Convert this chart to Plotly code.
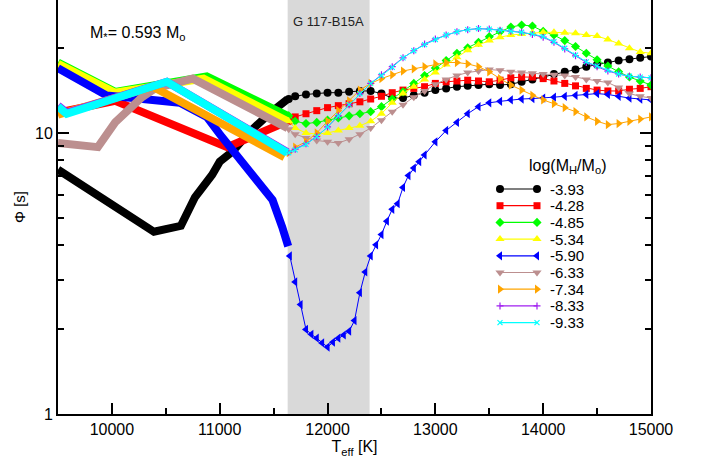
import plotly.graph_objects as go

# ---------------- data ----------------
LABELS = ["-3.93", "-4.28", "-4.85", "-5.34", "-5.90", "-6.33", "-7.34", "-8.33", "-9.33"]
COLORS = ["#000000", "#ff0000", "#00ff00", "#ffff00", "#0000ff",
          "#bc8f8f", "#ffa500", "#a020f0", "#00ffff"]
SYMBOLS = ["circle", "square", "diamond", "triangle-up", "triangle-left",
           "triangle-down", "triangle-right", "cross-thin", "x-thin"]

# cool part (dense model grid, drawn as a thick band)
T_LOW_393 = [9500, 10390, 10640, 10770, 10930, 11000, 11120, 11280, 11470, 11630]
PHI_LOW_393 = [7.4, 4.45, 4.67, 5.9, 7.1, 7.9, 8.6, 10.1, 11.8, 13.2]
T_LOW_428 = [9500, 10030, 11070, 11630]
PHI_LOW_428 = [11.8, 13.0, 8.9, 11.0]
T_LOW_485 = [9500, 10030, 10880, 11630]
PHI_LOW_485 = [17.8, 14.0, 15.9, 11.5]
T_LOW_534 = [9500, 10030, 10850, 11630]
PHI_LOW_534 = [17.6, 13.9, 15.6, 11.0]
T_LOW_590 = [9500, 9950, 10630, 10880, 11000, 11120, 11330, 11490, 11580, 11635]
PHI_LOW_590 = [17.0, 13.6, 12.8, 11.4, 9.9, 8.7, 7.0, 5.77, 4.62, 3.95]
T_LOW_633 = [9500, 9870, 10030, 10280, 10400, 10750, 11630]
PHI_LOW_633 = [9.2, 8.9, 10.9, 13.4, 14.4, 15.6, 10.4]
T_LOW_734 = [9500, 10380, 11600]
PHI_LOW_734 = [11.6, 14.6, 8.2]
T_LOW_833 = [9500, 9580, 10510, 11625]
PHI_LOW_833 = [12.5, 11.8, 15.2, 8.55]
T_LOW_933 = [9500, 9580, 10510, 11625]
PHI_LOW_933 = [12.4, 11.7, 15.2, 8.5]

# hot part (individual models, markers)
T_HIGH = [11640, 11700, 11800, 11900, 12000, 12100, 12200, 12300, 12400, 12500,
          12600, 12700, 12800, 12900, 13000, 13100, 13200, 13300, 13400, 13500,
          13600, 13700, 13800, 13900, 14000, 14100, 14200, 14300, 14400, 14500,
          14600, 14700, 14800, 14900, 15000]
PHI_393 = [13.2, 13.5, 13.7, 13.8, 13.9, 13.9, 14.0, 14.1, 14.1, 13.8, 13.3, 13.3,
           13.6, 13.9, 14.2, 14.4, 14.6, 14.7, 14.8, 14.9, 14.8, 14.9, 15.2, 15.5,
           15.8, 16.2, 16.5, 16.8, 17.2, 17.5, 17.8, 18.1, 18.3, 18.5, 18.7]
PHI_428 = [11.0, 11.4, 11.7, 12.0, 12.3, 12.5, 12.7, 12.9, 13.2, 13.5, 13.9, 14.2,
           14.4, 14.6, 15.0, 15.2, 15.3, 15.4, 15.3, 15.2, 15.4, 15.7, 15.8, 15.8,
           15.6, 15.3, 15.0, 14.7, 14.4, 14.2, 14.1, 14.1, 14.3, 14.4, 14.6]
PHI_485 = [11.5, 11.0, 10.8, 10.9, 11.1, 11.3, 11.5, 11.7, 11.9, 12.4, 13.2, 14.0,
           15.0, 16.0, 17.0, 18.1, 19.2, 20.1, 21.0, 22.0, 22.9, 23.8, 24.2, 24.0,
           23.0, 22.3, 21.3, 20.3, 19.2, 18.2, 17.3, 16.5, 15.8, 15.3, 14.8]
PHI_534 = [11.0, 10.4, 10.0, 9.9, 10.0, 10.2, 10.4, 10.6, 11.0, 11.7, 12.8, 13.8,
           14.6, 15.5, 16.4, 17.5, 18.6, 19.7, 20.6, 21.3, 21.9, 22.3, 22.5, 22.7,
           22.8, 22.8, 22.7, 22.6, 22.3, 22.1, 21.5, 20.8, 20.0, 19.4, 19.2]
PHI_633 = [10.3, 9.9, 9.6, 9.4, 9.3, 9.2, 9.5, 9.9, 10.4, 11.1, 11.9, 12.6,
           13.4, 14.1, 14.9, 15.5, 16.0, 16.4, 16.6, 16.8, 16.7, 16.5, 16.4, 16.3,
           16.2, 16.1, 16.0, 15.8, 15.5, 15.3, 15.1, 14.5, 13.8, 13.5, 13.3]
PHI_734 = [8.5, 8.9, 9.3, 10.0, 11.0, 12.0, 13.0, 14.2, 15.0, 15.6, 16.1, 16.6,
           16.9, 17.2, 17.6, 17.8, 17.8, 17.6, 17.2, 16.5, 15.6, 14.8, 14.2, 13.6,
           13.1, 12.7, 12.3, 11.9, 11.4, 11.0, 10.7, 10.8, 11.0, 11.2, 11.4]
PHI_833 = [8.55, 8.75, 9.15, 9.7, 10.5, 11.5, 12.6, 13.8, 15.0, 16.1, 17.2, 18.5,
           19.6, 20.7, 21.6, 22.3, 22.9, 23.3, 23.5, 23.4, 23.2, 23.0, 22.8, 22.4,
           21.9, 21.0, 19.9, 18.8, 17.8, 17.2, 16.6, 16.2, 15.9, 15.8, 15.7]
PHI_933 = [8.5, 8.7, 9.1, 9.7, 10.5, 11.5, 12.6, 13.8, 15.0, 16.0, 17.1, 18.5,
           19.6, 20.6, 21.5, 22.3, 22.9, 23.3, 23.5, 23.4, 23.2, 23.0, 22.8, 22.5,
           22.0, 21.1, 20.0, 18.9, 17.9, 17.3, 16.7, 16.2, 15.9, 15.8, 15.7]
T_HIGH_590 = [11650, 11700, 11750, 11800, 11850, 11900, 11950, 12000, 12050, 12100,
              12150, 12200, 12250, 12300, 12350, 12400, 12450, 12500, 12550, 12600,
              12650, 12700, 12750, 12800, 12850, 12900, 13000, 13100, 13200, 13300,
              13400, 13500, 13600, 13700, 13800, 13900, 14000, 14100, 14200, 14300,
              14400, 14500, 14600, 14700, 14800, 14900, 15000]
PHI_590 = [3.65, 2.95, 2.45, 2.0, 1.92, 1.86, 1.79, 1.73, 1.80, 1.86,
           1.91, 1.97, 2.15, 2.7, 3.2, 3.65, 4.0, 4.35, 4.85, 5.35,
           5.6, 6.4, 7.05, 7.5, 7.9, 8.35, 9.3, 10.2, 10.9, 11.7,
           12.4, 12.8, 12.95, 13.1, 13.2, 13.25, 13.3, 13.4, 13.5, 13.6,
           13.7, 13.8, 13.7, 13.5, 13.3, 13.2, 13.1]

# observed star temperature band
STAR_NAME = "G 117-B15A"
STAR_TEFF = [11630, 12390]

LOW = [(T_LOW_393, PHI_LOW_393), (T_LOW_428, PHI_LOW_428), (T_LOW_485, PHI_LOW_485),
       (T_LOW_534, PHI_LOW_534), (T_LOW_590, PHI_LOW_590), (T_LOW_633, PHI_LOW_633),
       (T_LOW_734, PHI_LOW_734), (T_LOW_833, PHI_LOW_833), (T_LOW_933, PHI_LOW_933)]
HIGH = [(T_HIGH, PHI_393), (T_HIGH, PHI_428), (T_HIGH, PHI_485), (T_HIGH, PHI_534),
        (T_HIGH_590, PHI_590), (T_HIGH, PHI_633), (T_HIGH, PHI_734),
        (T_HIGH, PHI_833), (T_HIGH, PHI_933)]
MSIZE = [8, 7, 7, 8, 8, 8, 8, 5, 5]

FONT = "Arial, Liberation Sans, sans-serif"

fig = go.Figure()

fig.add_shape(type="rect", xref="x", yref="paper", x0=STAR_TEFF[0], x1=STAR_TEFF[1],
              y0=0, y1=1, fillcolor="#d9d9d9", line=dict(width=0), layer="below")

for i in range(len(LABELS)):
    tl, pl = LOW[i]
    fig.add_trace(go.Scatter(x=tl, y=pl, mode="lines", showlegend=False,
                             line=dict(color=COLORS[i], width=8), hoverinfo="skip"))
    th, ph = HIGH[i]
    thin = SYMBOLS[i].endswith("thin")
    fig.add_trace(go.Scatter(
        x=th, y=ph, mode="lines+markers", name=LABELS[i], showlegend=False,
        line=dict(color=COLORS[i], width=1),
        marker=dict(symbol=SYMBOLS[i], size=MSIZE[i], color=COLORS[i],
                    line=dict(color=COLORS[i], width=1.2 if thin else 0))))

# legend drawn inside the plot, in plot-pixel coordinates (axes x3/y3)
LEG_X0, LEG_X1, LEG_Y0, LEG_DY = 500, 537, 189, 16.7
annotations = []
for i in range(len(LABELS)):
    yy = LEG_Y0 + LEG_DY * i
    thin = SYMBOLS[i].endswith("thin")
    fig.add_trace(go.Scatter(
        x=[LEG_X0, LEG_X1], y=[yy, yy], xaxis="x3", yaxis="y3", mode="lines+markers",
        showlegend=False, hoverinfo="skip",
        line=dict(color=COLORS[i], width=1.2),
        marker=dict(symbol=SYMBOLS[i], size=MSIZE[i], color=COLORS[i],
                    line=dict(color=COLORS[i], width=1.2 if thin else 0))))
    annotations.append(dict(x=548, y=yy, xref="x3", yref="y3", text=LABELS[i],
                            showarrow=False, xanchor="left", yanchor="middle",
                            font=dict(size=15, color="black", family=FONT)))

annotations += [
    dict(x=567, y=166, xref="x3", yref="y3", text="log(M<sub>H</sub>/M<sub>o</sub>)",
         showarrow=False, xanchor="center", yanchor="middle",
         font=dict(size=16, color="black", family=FONT)),
    dict(x=88, y=33, xref="x3", yref="y3", text="M<sub>*</sub>= 0.593 M<sub>o</sub>",
         showarrow=False, xanchor="left", yanchor="middle",
         font=dict(size=16, color="black", family=FONT)),
    dict(x=(STAR_TEFF[0] + STAR_TEFF[1]) / 2, y=21, xref="x", yref="y3", text=STAR_NAME,
         showarrow=False, xanchor="center", yanchor="middle",
         font=dict(size=13, color="#222222", family=FONT)),
]

X_MAJOR = [10000, 11000, 12000, 13000, 14000, 15000]
X_MINOR = [10500, 11500, 12500, 13500, 14500]
Y_MAJOR = [1, 10]
Y_MINOR = [2, 3, 4, 5, 6, 7, 8, 9, 20]

fig.update_layout(
    width=703, height=459, autosize=False,
    margin=dict(l=58, r=52, t=0, b=45),
    paper_bgcolor="white", plot_bgcolor="white",
    font=dict(family=FONT, color="black"),
    showlegend=False,
    annotations=annotations,
    xaxis=dict(range=[9500, 15000], showline=True, linecolor="black", linewidth=2,
               ticks="inside", ticklen=11, tickwidth=1.5, tickcolor="black",
               tickvals=X_MAJOR, ticktext=[str(v) for v in X_MAJOR],
               tickfont=dict(size=16),
               minor=dict(tickvals=X_MINOR, ticks="inside", ticklen=6, tickwidth=1.5,
                          tickcolor="black", showgrid=False),
               showgrid=False, zeroline=False,
               title=dict(text="T<sub>eff</sub> [K]", font=dict(size=16), standoff=1)),
    xaxis2=dict(range=[9500, 15000], overlaying="x", side="top", anchor="y",
                showline=False, ticks="inside", ticklen=10, tickwidth=1.5,
                tickcolor="black", tickvals=X_MAJOR, showticklabels=False,
                minor=dict(tickvals=X_MINOR, ticks="inside", ticklen=13, tickwidth=1.5,
                           tickcolor="black", showgrid=False),
                showgrid=False, zeroline=False),
    yaxis=dict(type="log", range=[0, 1.4728], showline=True, linecolor="black",
               linewidth=2, mirror="ticks",
               ticks="inside", ticklen=11, tickwidth=1.5, tickcolor="black",
               tickvals=Y_MAJOR, ticktext=[str(v) for v in Y_MAJOR],
               tickfont=dict(size=16),
               minor=dict(tickvals=Y_MINOR, ticks="inside", ticklen=6, tickwidth=1.5,
                          tickcolor="black", showgrid=False),
               showgrid=False, zeroline=False,
               title=dict(text="Φ [s]", font=dict(size=15), standoff=6)),
    xaxis3=dict(range=[58, 651], overlaying="x", anchor="y3", visible=False,
                fixedrange=True),
    yaxis3=dict(range=[414, 0], overlaying="y", anchor="x3", visible=False,
                fixedrange=True),
)

fig.write_html("out.html", config={"displayModeBar": False},
               post_script="document.body.style.margin='0';document.body.style.overflow='hidden';")
